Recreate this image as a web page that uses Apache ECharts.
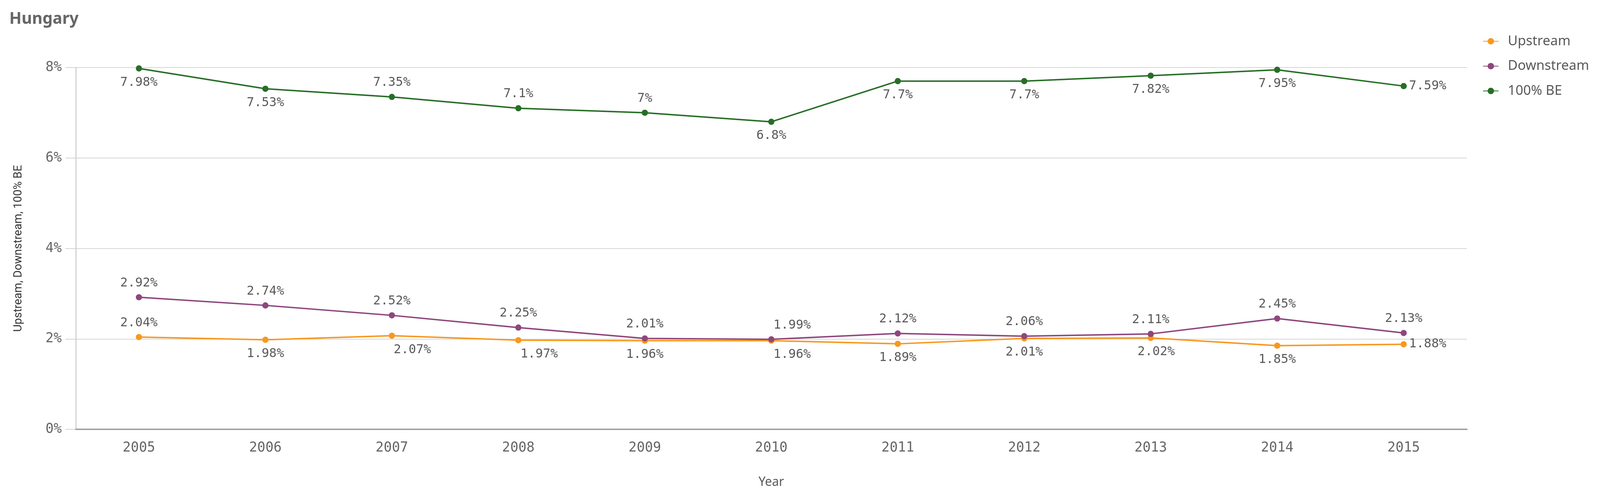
<!DOCTYPE html>
<html><head><meta charset="utf-8">
<script src="https://cdn.jsdelivr.net/npm/echarts@6/dist/echarts.min.js"></script>
<style>html,body{margin:0;padding:0;background:#fff;overflow:hidden}#c{width:100vw;height:100vh}</style>
</head><body><div id="c"></div>
<script>
const years = ['2005','2006','2007','2008','2009','2010','2011','2012','2013','2014','2015'];
const upstream   = [2.04,1.98,2.07,1.97,1.96,1.96,1.89,2.01,2.02,1.85,1.88];
const downstream = [2.92,2.74,2.52,2.25,2.01,1.99,2.12,2.06,2.11,2.45,2.13];
const be100      = [7.98,7.53,7.35,7.1,7,6.8,7.7,7.7,7.82,7.95,7.59];

// label placement (style only)
const upPos   = ['top','bottom','bottom','bottom','bottom','bottom','bottom','bottom','bottom','bottom','right'];
const downPos = ['top','top','top','top','top','top','top','top','top','top','top'];
const bePos   = ['bottom','bottom','top','top','top','bottom','bottom','bottom','bottom','bottom','right'];
const upOffX   = [0,0,56,57,0,57,0,0,15,0,0];
const downOffX = [0,0,0,0,0,57,0,0,0,0,0];

const W = window.innerWidth, H = window.innerHeight;
const sx = W/4376, sy = H/1276, s = Math.min(sx, sy);

const labelFont = {fontFamily:'DejaVu Sans Mono', fontSize:34*s, color:'#595959'};
function mk(vals, pos, offX){
  return vals.map((v,i)=>({value:v, label:{position:pos[i], offset:[(offX? offX[i]:0)*sx, 0], distance:(pos[i]==='right'?6:13)*s}}));
}
const chart = echarts.init(document.getElementById('c'));
chart.setOption({
  animation:false,
  title:{text:'Hungary', left:20*sx, top:24*sy, textStyle:{fontFamily:'Noto Sans', fontWeight:'bold', fontSize:44*s, color:'#666'}},
  legend:{orient:'vertical', left:4050*sx, top:83*sy, itemGap:30*s, itemWidth:42*s, itemHeight:22*s,
    textStyle:{fontFamily:'Noto Sans', fontSize:37*s, lineHeight:38*s, color:'#595959', padding:[0,0,0,20*s]},
    data:['Upstream','Downstream','100% BE']},
  grid:{left:207*sx, right:364*sx, top:173*sy, bottom:176*sy},
  xAxis:{type:'category', data:years, name:'Year', nameLocation:'middle', nameGap:120*sy,
    nameTextStyle:{fontFamily:'Noto Sans', fontSize:34*s, color:'#595959'},
    axisLine:{lineStyle:{color:'#9a9a9a', width:4*s}}, axisTick:{show:false},
    axisLabel:{fontFamily:'DejaVu Sans Mono', fontSize:37*s, color:'#666', margin:30*sy}},
  yAxis:{type:'value', min:0, max:8, interval:2, name:'Upstream, Downstream, 100% BE', nameLocation:'middle', nameGap:140*sx,
    nameTextStyle:{fontFamily:'Roboto', fontSize:31*s, color:'#333'},
    axisLine:{show:true, lineStyle:{color:'#d0d0d0', width:3*s}},
    axisTick:{show:true, length:28*sx, lineStyle:{color:'#d0d0d0', width:2*s}},
    splitLine:{lineStyle:{color:'#d6d6d6', width:2*s}},
    axisLabel:{fontFamily:'DejaVu Sans Mono', fontSize:37*s, color:'#666', margin:38*sx, formatter:v=>v+'%'}},
  series:[
    {name:'Upstream', type:'line', data:mk(upstream,upPos,upOffX), symbol:'circle', symbolSize:17*s,
     itemStyle:{color:'#f8981d'}, lineStyle:{width:4*s, color:'#f8981d'},
     label:Object.assign({show:true, formatter:p=>p.value+'%'}, labelFont)},
    {name:'Downstream', type:'line', data:mk(downstream,downPos,downOffX), symbol:'circle', symbolSize:17*s,
     itemStyle:{color:'#8e477d'}, lineStyle:{width:4*s, color:'#8e477d'},
     label:Object.assign({show:true, formatter:p=>p.value+'%'}, labelFont)},
    {name:'100% BE', type:'line', data:mk(be100,bePos), symbol:'circle', symbolSize:17*s,
     itemStyle:{color:'#276e27'}, lineStyle:{width:4*s, color:'#276e27'},
     label:Object.assign({show:true, formatter:p=>p.value+'%'}, labelFont)}
  ]
});
</script></body></html>
